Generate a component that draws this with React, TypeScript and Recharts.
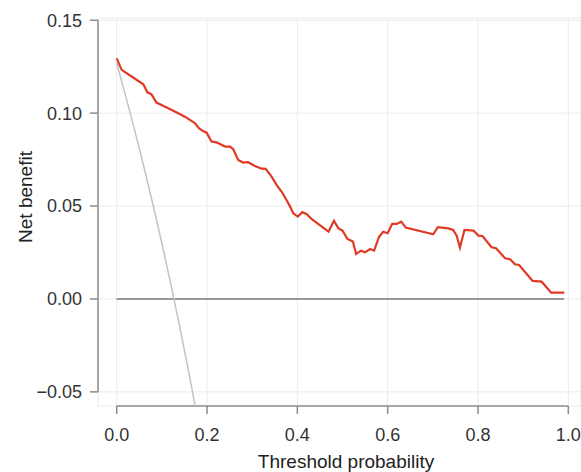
import {LineChart, Line, XAxis, YAxis, CartesianGrid, ReferenceLine, Label} from "recharts";

// threshold probabilities and net benefit of the model
const modelThreshold = [
    0.0, 0.011, 0.033, 0.059, 0.068, 0.077, 0.088, 0.114, 0.133, 0.151, 0.168, 0.173, 0.182, 0.19, 0.199,
    0.21, 0.221, 0.24, 0.251, 0.258, 0.269, 0.28, 0.291, 0.306, 0.321, 0.33, 0.343, 0.354, 0.365, 0.376,
    0.384, 0.391, 0.401, 0.411, 0.421, 0.432, 0.446, 0.457, 0.469, 0.481, 0.491, 0.5, 0.511, 0.523, 0.53,
    0.541, 0.55, 0.561, 0.57, 0.581, 0.59, 0.6, 0.61, 0.62, 0.63, 0.64, 0.701, 0.711, 0.734, 0.745, 0.753,
    0.76, 0.77, 0.79, 0.801, 0.81, 0.83, 0.84, 0.86, 0.871, 0.882, 0.891, 0.921, 0.941, 0.962, 0.991,
];
const modelBenefit = [
    0.1295, 0.1233, 0.1197, 0.1155, 0.1112, 0.1101, 0.1057, 0.1026, 0.1003, 0.0981, 0.0954, 0.0946, 0.0919,
    0.0905, 0.0895, 0.0847, 0.0843, 0.082, 0.082, 0.0806, 0.0748, 0.0734, 0.0736, 0.0716, 0.0701, 0.07,
    0.0658, 0.0614, 0.0578, 0.0533, 0.0497, 0.0461, 0.0443, 0.0467, 0.0456, 0.0429, 0.0404, 0.0384, 0.0362,
    0.0421, 0.038, 0.0368, 0.0323, 0.0309, 0.0242, 0.026, 0.0251, 0.0269, 0.026, 0.0335, 0.0362, 0.0354,
    0.0404, 0.0404, 0.0416, 0.0384, 0.0348, 0.0386, 0.038, 0.0371, 0.0339, 0.0276, 0.0371, 0.0368, 0.0341,
    0.0339, 0.0278, 0.0273, 0.0219, 0.0214, 0.0187, 0.0183, 0.0097, 0.0093, 0.0034, 0.0034,
];

// treat all
const allThreshold = [0, 0.02, 0.04, 0.06, 0.08, 0.1, 0.12, 0.14, 0.16, 0.18, 0.2];
const allBenefit = [0.127, 0.109, 0.0906, 0.0713, 0.0511, 0.03, 0.0078, -0.0154, -0.0399, -0.0657, -0.093];

// treat none
const noneThreshold = [0, 0.991];
const noneBenefit = [0, 0];

const xTicks = [0, 0.2, 0.4, 0.6, 0.8, 1.0];
const yTicks = [-0.05, 0, 0.05, 0.1, 0.15];

const X_DOMAIN = [-0.0414, 1.0281];
const Y_DOMAIN = [-0.0576, 0.1512];

const toRows = (xs, ys) => xs.map((x, i) => ({x, y: ys[i]}));

const AXIS = "#8c8c8c";
const FONT = "Liberation Sans, Arial, Helvetica, sans-serif";

const fmtY = (v) => (v < 0 ? "\u2212" + Math.abs(v).toFixed(2) : v.toFixed(2));

export default function App() {
    const model = toRows(modelThreshold, modelBenefit);
    const all = toRows(allThreshold, allBenefit);
    const none = toRows(noneThreshold, noneBenefit);
    return (
        <div style={{position: "absolute", left: 0, top: 0, width: 581, height: 472, background: "#fff"}}>
            <LineChart width={581} height={472} margin={{top: 18, right: 0, bottom: 0, left: 0}}
                       style={{fontFamily: FONT}}>
                <CartesianGrid stroke="#ebebeb" strokeWidth={1}/>
                <XAxis dataKey="x" type="number" domain={X_DOMAIN} ticks={xTicks} allowDataOverflow
                       height={66} axisLine={false} tickLine={{stroke: AXIS, strokeWidth: 1.5}} tickSize={8}
                       tickMargin={14} tickFormatter={(v) => v.toFixed(1)}
                       tick={{fill: "#333", fontSize: 18}}>
                    <Label content={() => (
                        <text x={346} y={468} textAnchor="middle" fontSize={19} fill="#222"
                              fontFamily={FONT}>Threshold probability</text>
                    )}/>
                </XAxis>
                <YAxis type="number" domain={Y_DOMAIN} ticks={yTicks} allowDataOverflow width={98}
                       axisLine={false} tickLine={{stroke: AXIS, strokeWidth: 1.5}} tickSize={8}
                       tickMargin={8} tickFormatter={fmtY} tick={{fill: "#333", fontSize: 18}}>
                    <Label content={() => (
                        <text x={32} y={197} transform="rotate(-90 32 197)" textAnchor="middle"
                              fontSize={19} fill="#222" fontFamily={FONT}>Net benefit</text>
                    )}/>
                </YAxis>
                <ReferenceLine segment={[{x: 0, y: Y_DOMAIN[0]}, {x: 1, y: Y_DOMAIN[0]}]}
                               stroke={AXIS} strokeWidth={1.5} ifOverflow="visible"/>
                <ReferenceLine segment={[{x: X_DOMAIN[0], y: -0.05}, {x: X_DOMAIN[0], y: 0.15}]}
                               stroke={AXIS} strokeWidth={1.5} ifOverflow="visible"/>
                <Line data={none} dataKey="y" type="linear" stroke="#7a7a7a" strokeWidth={1.5}
                      dot={false} isAnimationActive={false}/>
                <Line data={all} dataKey="y" type="linear" stroke="#c4c4c4" strokeWidth={1.5}
                      dot={false} isAnimationActive={false}/>
                <Line data={model} dataKey="y" type="linear" stroke="#e03a26" strokeWidth={2.2}
                      dot={false} isAnimationActive={false}/>
            </LineChart>
        </div>
    );
}
